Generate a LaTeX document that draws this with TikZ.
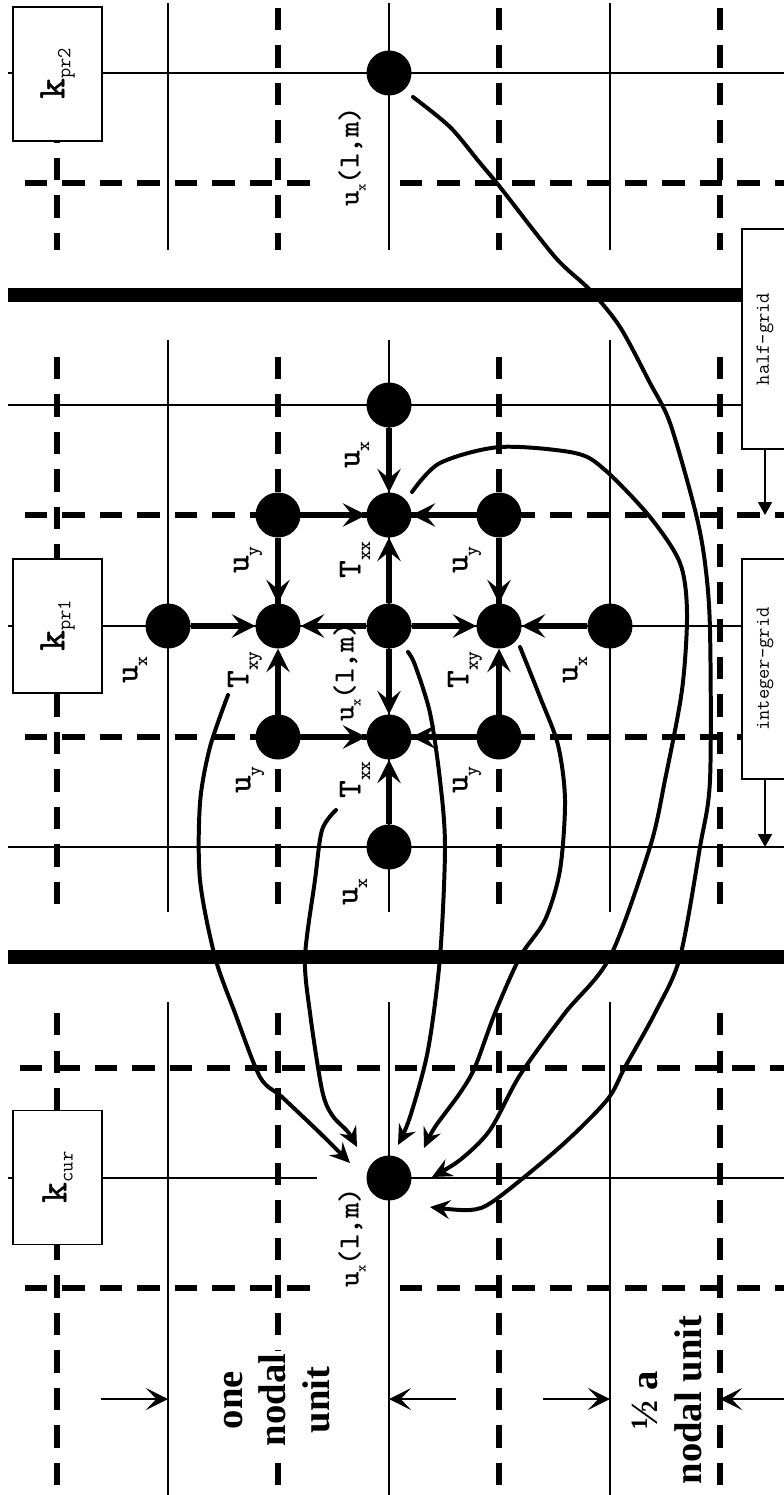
\documentclass[tikz,border=0pt]{standalone}
\usepackage{fontspec}
\setmainfont{Liberation Serif}
\usetikzlibrary{arrows.meta}

\newcommand{\stencilname}[2]{{\fontsize{29}{29}\selectfont #1}\raisebox{-8pt}{\fontsize{16}{16}\selectfont #2}}
\newcommand{\pointname}{{\fontsize{25}{25}\selectfont u}\raisebox{-6pt}{\fontsize{12}{12}\selectfont x}{\fontsize{25}{25}\selectfont (l,m)}}
\newcommand{\kname}[1]{{\fontsize{34}{34}\selectfont\bfseries k}\raisebox{-5pt}{\fontsize{17}{17}\selectfont\mdseries #1}}

\begin{document}
\begin{tikzpicture}[x=0.03cm, y=-0.03cm,
  intline/.style={line width=1.2pt},
  halfline/.style={line width=5pt, dash pattern=on 19pt off 13pt},
  slab/.style={line width=12pt},
  dot/.style={circle, fill=black, inner sep=0pt, minimum size=1.35cm},
  flux/.style={-{Stealth[length=20pt, width=20pt, inset=8pt]}, line width=4.5pt},
  carry/.style={-{Stealth[length=17pt, width=16pt, inset=6pt]}, line width=3.4pt,
                line cap=round, line join=round},
  dimarrow/.style={-{Stealth[length=19pt, width=19pt, inset=9pt]}, line width=1.2pt},
  gridarrow/.style={-{Triangle[length=11pt, width=12pt]}, line width=1.2pt},
  kbox/.style={draw, fill=white, rotate=90, minimum width=4.02cm, minimum height=2.67cm,
               inner sep=0pt, line width=1.2pt, font=\ttfamily},
  gridbox/.style={draw, fill=white, rotate=90, minimum width=6.6cm, minimum height=1.38cm,
                  line width=1.2pt, font=\ttfamily\fontsize{17}{17}\selectfont},
  stencillab/.style={rotate=90, inner sep=1pt, font=\ttfamily\bfseries},
  pointlab/.style={rotate=90, inner sep=1pt, font=\ttfamily\bfseries},
  unitlab/.style={rotate=90, align=center, fill=white, inner sep=2pt,
                  font=\bfseries\fontsize{33}{37}\selectfont}]

\useasboundingbox (0,0) rectangle (783,1495);

% grid lines of the three panels
\foreach \ya/\yb/\yc in {3/8/250, 340/357/912, 1002/1013/1500}{
  \foreach \x in {168,389,610} \draw[intline] (\x,\ya) -- (\x,\yc);
  \foreach \x in {57,278,499,720} \draw[halfline] (\x,\yb) -- (\x,\yc);
}
\draw[intline] (8,73) -- (790,73);
\draw[halfline] (25,183) -- (790,183);
\draw[intline] (8,405) -- (742,405);
\draw[halfline] (25,515) -- (790,515);
\draw[intline] (8,626) -- (742,626);
\draw[halfline] (25,737) -- (742,737);
\draw[intline] (8,847) -- (790,847);
\draw[halfline] (20,1068) -- (790,1068);
\draw[intline] (8,1178) -- (790,1178);
\draw[halfline] (25,1288) -- (790,1288);

% processor boundaries
\draw[slab] (8,295) -- (742,295);
\draw[slab] (8,957) -- (790,957);

% processor boxes
\node[kbox] (kpr2) at (57.5,74) {\kname{pr2}};
\node[kbox] (kpr1) at (57.5,626) {\kname{pr1}};
\node[kbox] (kcur) at (57.5,1177.5) {\kname{cur}};

% grid boxes
\node[gridbox] (half) at (765,339) {half-grid};
\node[gridbox] (integer) at (765,669) {integer-grid};
\coordinate (halftip) at (765,515);
\coordinate (inttip) at (765,847);
\draw[gridarrow] (half.west) -- (halftip);
\draw[gridarrow] (integer.west) -- (inttip);

% point labels
\node[pointlab, fill=white, minimum width=3.6cm, minimum height=2.1cm] (lP2) at (352,157) {\pointname};
\node[pointlab] (lP1) at (347,672) {\pointname};
\node[pointlab, fill=white, minimum width=3.7cm, minimum height=2.1cm] (lCur) at (352,1238) {\pointname};

% stencil points
\node[dot] (p2) at (389,73) {};
\node[dot] (uxU) at (389,405) {};
\node[dot] (uyUL) at (278,515) {};
\node[dot] (txxU) at (389,515) {};
\node[dot] (uyUR) at (499,515) {};
\node[dot] (uxL) at (168,626) {};
\node[dot] (txyL) at (278,626) {};
\node[dot] (c) at (389,626) {};
\node[dot] (txyR) at (499,626) {};
\node[dot] (uxR) at (610,626) {};
\node[dot] (uyDL) at (278,737) {};
\node[dot] (txxD) at (389,737) {};
\node[dot] (uyDR) at (499,737) {};
\node[dot] (uxD) at (389,847) {};
\node[dot] (cur) at (389,1178) {};

% stencil arrows
\draw[flux] (uxU) -- (txxU);
\draw[flux] (uyUL) -- (txxU);
\draw[flux] (uyUR) -- (txxU);
\draw[flux] (c) -- (txxU);
\draw[flux] (uyUL) -- (txyL);
\draw[flux] (uyUR) -- (txyR);
\draw[flux] (uxL) -- (txyL);
\draw[flux] (c) -- (txyL);
\draw[flux] (c) -- (txyR);
\draw[flux] (uxR) -- (txyR);
\draw[flux] (uyDL) -- (txyL);
\draw[flux] (uyDR) -- (txyR);
\draw[flux] (c) -- (txxD);
\draw[flux] (uyDL) -- (txxD);
\draw[flux] (uyDR) -- (txxD);
\draw[flux] (uxD) -- (txxD);

% stencil labels
\node[stencillab] (lUxU) at (357,455) {\stencilname{u}{x}};
\node[stencillab] (lUyUL) at (248,560) {\stencilname{u}{y}};
\node[stencillab] (lTxxU) at (355,560) {\stencilname{T}{xx}};
\node[stencillab] (lUyUR) at (467,560) {\stencilname{u}{y}};
\node[stencillab] (lUxL) at (135,670) {\stencilname{u}{x}};
\node[stencillab] (lTxyL) at (245,670) {\stencilname{T}{xy}};
\node[stencillab] (lTxyR) at (465,670) {\stencilname{T}{xy}};
\node[stencillab] (lUxR) at (575,670) {\stencilname{u}{x}};
\node[stencillab] (lUyDL) at (250,780) {\stencilname{u}{y}};
\node[stencillab] (lTxxD) at (355,780) {\stencilname{T}{xx}};
\node[stencillab] (lUyDR) at (467,780) {\stencilname{u}{y}};
\node[stencillab] (lUxD) at (355,892) {\stencilname{u}{x}};

% values carried to the current processor
\coordinate (c1s) at (228,695);  \coordinate (c1e) at (350,1163);
\coordinate (c2s) at (336,810);  \coordinate (c2e) at (357,1147);
\coordinate (c3s) at (408,652);  \coordinate (c3e) at (398,1145);
\coordinate (c4s) at (520,647);  \coordinate (c4e) at (424,1148);
\coordinate (c5s) at (412,492);  \coordinate (c5e) at (432,1177);
\coordinate (c6s) at (413,97);   \coordinate (c6e) at (430,1207);
\draw[carry] plot[smooth, tension=0.5] coordinates {(c1s) (210,747) (200,803) (200,880)
  (215,957) (235,1013) (260,1077) (282,1097) (320,1133) (c1e)};
\draw[carry] plot[smooth, tension=0.5] coordinates {(c2s) (322,830) (315,880) (305,957)
  (310,1013) (322,1090) (332,1115) (348,1132) (c2e)};
\draw[carry] plot[smooth, tension=0.5] coordinates {(c3s) (415,665) (430,713) (440,780)
  (445,847) (440,957) (428,1050) (410,1117) (c3e)};
\draw[carry] plot[smooth, tension=0.5] coordinates {(c4s) (540,697) (558,745) (565,800)
  (560,870) (545,920) (520,957) (495,1013) (475,1067) (460,1093) (435,1127) (c4e)};
\draw[carry] plot[smooth, tension=0.5] coordinates {(c5s) (440,463) (500,447) (575,453)
  (605,470) (650,517) (680,563) (687,613) (682,690) (665,780) (650,847) (610,957)
  (565,1013) (520,1075) (490,1130) (460,1160) (c5e)};
\draw[carry] plot[smooth, tension=0.5] coordinates {(c6s) (450,127) (480,163) (500,187)
  (555,257) (590,290) (620,327) (650,383) (670,423) (695,510) (705,563) (710,630)
  (710,780) (700,847) (680,957) (655,1013) (625,1067) (607,1100) (560,1147) (495,1200)
  (470,1210) (c6e)};

% unit measures
\coordinate (dimAs) at (101,1399); \coordinate (dimAe) at (168,1399);
\coordinate (dimBs) at (456,1399); \coordinate (dimBe) at (389,1399);
\coordinate (dimCs) at (543,1399); \coordinate (dimCe) at (610,1399);
\coordinate (dimDs) at (790,1399); \coordinate (dimDe) at (720,1399);
\draw[dimarrow] (dimAs) -- (dimAe);
\draw[dimarrow] (dimBs) -- (dimBe);
\draw[dimarrow] (dimCs) -- (dimCe);
\draw[dimarrow] (dimDs) -- (dimDe);
\node[unitlab] (oneunit) at (277,1400) {one\\nodal\\unit};
\node[unitlab] (halfunit) at (667,1400) {½ a\\nodal unit};

\end{tikzpicture}
\end{document}
